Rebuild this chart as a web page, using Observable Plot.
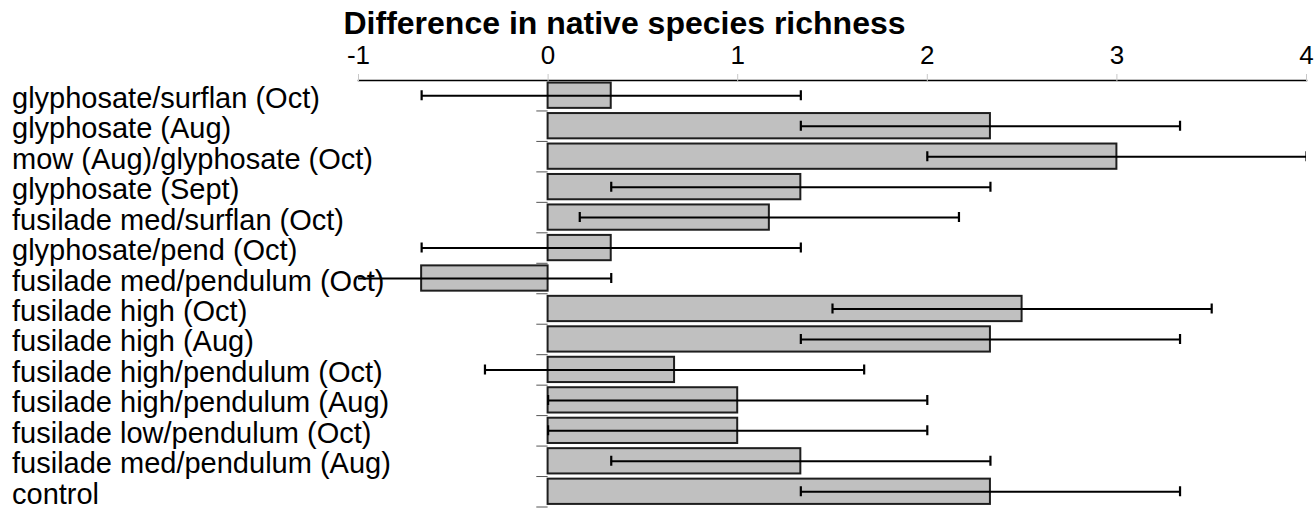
<!DOCTYPE html>
<html>
<head>
<meta charset="utf-8">
<script src="https://cdn.jsdelivr.net/npm/d3@7"></script>
<script src="https://cdn.jsdelivr.net/npm/@observablehq/plot@0.6"></script>
<style>
  html, body { margin: 0; padding: 0; background: #ffffff; }
  #chart svg { display: block; }
</style>
</head>
<body>
<div id="chart"></div>
<script>
// ---- data ----
const categories = [
  "glyphosate/surflan (Oct)",
  "glyphosate (Aug)",
  "mow (Aug)/glyphosate (Oct)",
  "glyphosate (Sept)",
  "fusilade med/surflan (Oct)",
  "glyphosate/pend (Oct)",
  "fusilade med/pendulum (Oct)",
  "fusilade high (Oct)",
  "fusilade high (Aug)",
  "fusilade high/pendulum (Oct)",
  "fusilade high/pendulum (Aug)",
  "fusilade low/pendulum (Oct)",
  "fusilade med/pendulum (Aug)",
  "control"
];
const means = [0.333, 2.333, 3.0, 1.333, 1.167, 0.333, -0.667, 2.5, 2.333, 0.667, 1.0, 1.0, 1.333, 2.333];
const lower = [-0.667, 1.333, 2.0, 0.333, 0.167, -0.667, -1.667, 1.5, 1.333, -0.333, 0.0, 0.0, 0.333, 1.333];
const upper = [1.333, 3.333, 4.0, 2.333, 2.167, 1.333, 0.333, 3.5, 3.333, 1.667, 2.0, 2.0, 2.333, 3.333];
const xTicks = [-1, 0, 1, 2, 3, 4];
const xDomain = [-1, 4];
const title = "Difference in native species richness";

const rows = categories.map((c, i) => ({cat: c, mean: means[i], lo: lower[i], hi: upper[i]}));

const W = 1314, H = 510;
const mTop = 80, mBottom = 3.5, mLeft = 358, mRight = 8;
const padIn = 0.17, padOut = padIn / 2;
const step = (H - mTop - mBottom) / categories.length;
const bw = step * (1 - padIn);
const capH = 10;
const capInset = (bw - capH) / 2;
const font = "'Liberation Sans', Arial, Helvetica, sans-serif";

const chart = Plot.plot({
  width: W,
  height: H,
  marginTop: mTop,
  marginBottom: mBottom,
  marginLeft: mLeft,
  marginRight: mRight,
  style: {fontFamily: font, background: "white", color: "black"},
  x: {domain: xDomain, label: null},
  y: {domain: categories, paddingInner: padIn, paddingOuter: padOut, round: false, axis: null, label: null},
  marks: [
    Plot.barX(rows, {x1: 0, x2: "mean", y: "cat", fill: "#c0c0c0", stroke: "#1e1e1e", strokeWidth: 2}),
    Plot.ruleY(rows, {y: "cat", x1: "lo", x2: "hi", stroke: "black", strokeWidth: 2, clip: true}),
    Plot.tickX(rows, {x: "lo", y: "cat", insetTop: capInset, insetBottom: capInset, stroke: "black", strokeWidth: 2.2, clip: true}),
    Plot.tickX(rows, {x: "hi", y: "cat", insetTop: capInset, insetBottom: capInset, stroke: "black", strokeWidth: 2.2, clip: true}),
    Plot.ruleY(categories, {y: d => d, x1: 0, x2: 0, insetLeft: -11.3, dy: step / 2, stroke: "#555", strokeWidth: 1}),
    Plot.text(categories, {
      y: d => d, text: d => d, frameAnchor: "left", textAnchor: "start", lineAnchor: "bottom",
      dx: 11.5 - mLeft, dy: 12, fontSize: 29, fill: "black"
    }),
    Plot.frame({anchor: "top", stroke: "black", strokeWidth: 1.5}),
    Plot.axisX({
      anchor: "top", ticks: xTicks, tickSize: 7, tickPadding: 10, tickFormat: d => String(d),
      stroke: "#c8c8c8", fill: "black", fontSize: 26, label: null
    }),
    Plot.text([title], {
      text: d => d, frameAnchor: "top-left", textAnchor: "start", lineAnchor: "bottom",
      dx: 343 - mLeft, dy: 33.3 - mTop, fontSize: 32, fontWeight: "bold", fill: "black"
    })
  ]
});

document.getElementById("chart").appendChild(chart);
</script>
</body>
</html>
